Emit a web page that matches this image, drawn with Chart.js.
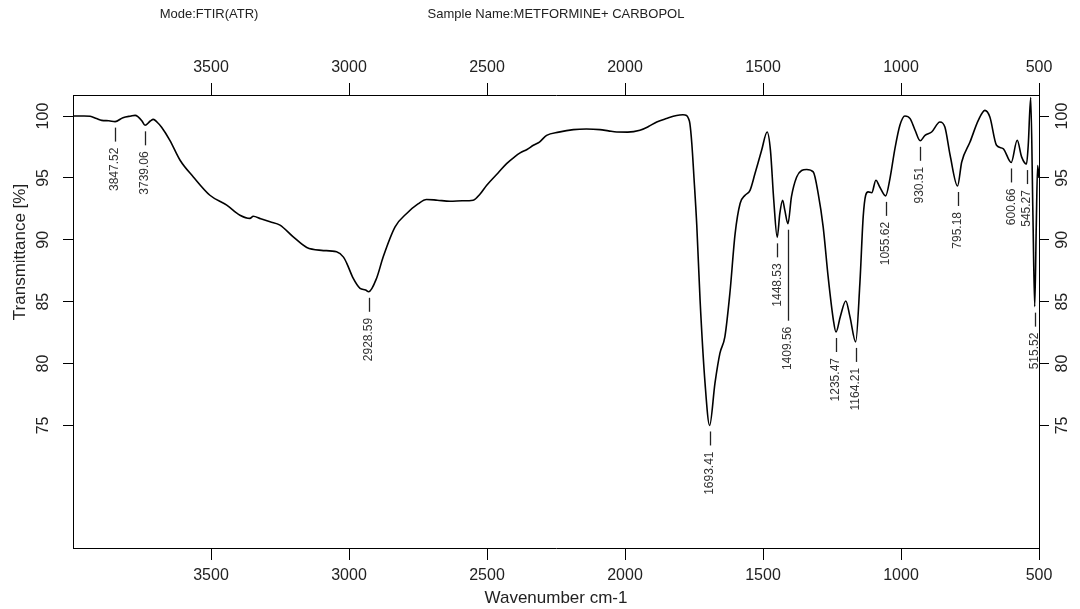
<!DOCTYPE html>
<html>
<head>
<meta charset="utf-8">
<title>FTIR - METFORMINE + CARBOPOL</title>
<script src="https://cdn.jsdelivr.net/npm/chart.js@4.4.1/dist/chart.umd.min.js"></script>
<style>
  html, body { margin: 0; padding: 0; background: #fff; }
  #wrap { width: 1080px; height: 609px; position: relative; }
</style>
</head>
<body>
<div id="wrap"><canvas id="chart" width="1080" height="609"></canvas></div>
<script>
// spectrum, wavenumber (cm-1) from high to low
var wavenumbers = [
  4000, 3960, 3938, 3915, 3896, 3870, 3847.52, 3819, 3790, 3775, 3765, 3750, 3739.06, 3720, 3709, 3695, 3679,
  3649, 3612, 3564, 3504, 3443, 3395, 3359, 3347, 3320, 3286, 3250, 3202, 3153, 3100, 3045, 3020, 3008,
  2985, 2960, 2940, 2928.59, 2900, 2876, 2833, 2791, 2750, 2719, 2680, 2634, 2590, 2550, 2525, 2501,
  2460, 2429, 2400, 2380, 2355, 2332, 2310, 2284, 2240, 2187, 2140, 2091, 2060, 2030, 1990, 1946, 1915,
  1885, 1850, 1813, 1790, 1777, 1770, 1765, 1758, 1750, 1740, 1728, 1710, 1693.41, 1674, 1656, 1638,
  1620, 1601, 1583, 1565, 1547, 1529, 1505, 1485, 1473, 1461, 1448.53, 1439, 1429, 1421, 1409.56, 1397,
  1378, 1360, 1342, 1318, 1300, 1282, 1264, 1245, 1235.47, 1220, 1200, 1185, 1164.21, 1149, 1137, 1128,
  1119, 1106, 1091, 1077, 1055.62, 1040, 1022, 1004, 986, 967, 949, 930.51, 913, 889, 859, 841, 822,
  795.18, 780, 750, 720, 696, 678, 654, 630, 600.66, 579, 563, 545.27, 539, 530, 522, 515.52, 510, 505, 500
];
var transmittance = [
  100.0, 100.0, 99.98, 99.8, 99.65, 99.62, 99.55, 99.87, 100.0, 100.05, 99.95, 99.6, 99.25, 99.6, 99.73, 99.5, 99.1,
  98.04, 96.43, 95.08, 93.6, 92.8, 91.99, 91.73, 91.9, 91.7, 91.45, 91.19, 90.24, 89.38, 89.15, 89.03, 88.6, 88.1,
  86.9, 86.08, 85.95, 85.8, 86.9, 88.63, 91.05, 92.13, 92.9, 93.26, 93.2, 93.12, 93.15, 93.2, 93.7, 94.41,
  95.4, 96.16, 96.7, 97.02, 97.3, 97.64, 97.9, 98.44, 98.7, 98.9, 98.95, 98.9, 98.8, 98.71, 98.7, 98.85, 99.15,
  99.52, 99.8, 100.05, 100.1, 100.05, 99.8, 99.4, 97.8, 95.0, 91.2, 85.14, 78.42, 75.0, 78.42, 80.84, 82.18,
  85.68, 90.5, 92.93, 93.6, 94.0, 95.35, 97.23, 98.71, 97.23, 93.2, 90.2, 92.13, 93.2, 92.4, 91.3, 93.47,
  95.08, 95.6, 95.68, 95.49, 93.74, 91.05, 87.02, 83.52, 82.55, 83.79, 85.06, 83.79, 81.75, 86.48, 91.85, 93.6,
  93.87, 93.8, 94.81, 94.27, 93.55, 94.95, 97.37, 99.25, 100.0, 99.79, 98.85, 98.0, 98.44, 98.71, 99.52, 99.11, 96.83,
  94.35, 96.29, 97.9, 99.65, 100.46, 99.92, 97.64, 97.37, 96.25, 98.04, 96.7, 96.12, 97.64, 101.5, 92, 84.6, 91, 96, 95
];

// picked peaks
var peaks = [3847.52, 3739.06, 2928.59, 1693.41, 1448.53, 1409.56, 1235.47, 1164.21, 1055.62, 930.51, 795.18, 600.66, 545.27, 515.52];

var xTicks = [3500, 3000, 2500, 2000, 1500, 1000, 500];
var yTicks = [75, 80, 85, 90, 95, 100];

var FONT = '"Liberation Sans", Arial, sans-serif';

var spectrum = wavenumbers.map(function(w, i) {
    return { x: w, y: transmittance[i] };
});

function fixTicks(list) {
    return function(scale) {
        scale.ticks = list.map(function(v) { return { value: v }; });
    };
}

//--------------------------------------------------------------------
// * header, rotated y labels, axis titles and the peak picks
//--------------------------------------------------------------------
var decorations = {
    id: 'decorations',
    afterDraw: function(chart) {
        var ctx = chart.ctx;
        var xs = chart.scales.x, ys = chart.scales.y;
        var area = chart.chartArea;

        ctx.save();
        ctx.fillStyle = '#222';
        ctx.textBaseline = 'middle';

        // header line
        ctx.font = '13px ' + FONT;
        ctx.textAlign = 'center';
        ctx.fillText('Mode:FTIR(ATR)', 209, 14);
        ctx.fillText('Sample Name:METFORMINE+ CARBOPOL', 556, 14);

        // x title
        ctx.font = '17px ' + FONT;
        ctx.fillText('Wavenumber cm-1', (area.left + area.right) / 2, 598);

        // y title
        ctx.save();
        ctx.translate(20, 252);
        ctx.rotate(-Math.PI / 2);
        ctx.fillText('Transmittance [%]', 0, 0);
        ctx.restore();

        // y tick labels on both sides
        ctx.font = '16px ' + FONT;
        yTicks.forEach(function(v) {
            var py = ys.getPixelForValue(v);
            [44, 1063].forEach(function(px) {
                ctx.save();
                ctx.translate(px, py);
                ctx.rotate(-Math.PI / 2);
                ctx.fillText(String(v), 0, 0);
                ctx.restore();
            });
        });

        // peak picks: short dash under the minimum, then the value
        ctx.font = '12px ' + FONT;
        ctx.strokeStyle = '#222';
        ctx.lineWidth = 1.3;
        var prev = null;
        peaks.forEach(function(w) {
            var t = transmittance[wavenumbers.indexOf(w)];
            var px = xs.getPixelForValue(w);
            var top = ys.getPixelForValue(t) + 6;
            var bottom = top + 14;
            if (prev && Math.abs(px - prev.x) < 12 && prev.end > top) {
                bottom = prev.end + 14;
            }
            var label = w.toFixed(2);
            var len = ctx.measureText(label).width;

            ctx.beginPath();
            ctx.moveTo(Math.round(px) + 0.5, top);
            ctx.lineTo(Math.round(px) + 0.5, bottom);
            ctx.stroke();

            ctx.save();
            ctx.fillStyle = '#333';
            ctx.translate(px, bottom + 6);
            ctx.rotate(-Math.PI / 2);
            ctx.textAlign = 'right';
            ctx.fillText(label, 0, 0);
            ctx.restore();

            prev = { x: px, end: bottom + 6 + len };
        });

        ctx.restore();
    }
};

function xAxis(pos, size) {
    return {
        type: 'linear',
        position: pos,
        reverse: true,
        min: 500,
        max: 4000,
        afterBuildTicks: fixTicks(xTicks),
        afterFit: function(scale) { scale.height = size; },
        grid: { drawOnChartArea: false, tickLength: 12, tickColor: '#000', color: '#000' },
        border: { display: true, color: '#000', width: 1 },
        ticks: {
            color: '#222',
            font: { family: FONT, size: 16 },
            padding: 6,
            maxRotation: 0,
            minRotation: 0,
            autoSkip: false,
            callback: function(v) { return String(v); }
        }
    };
}

function yAxis(pos, size) {
    return {
        type: 'linear',
        position: pos,
        min: 65.1,
        max: 101.7,
        afterBuildTicks: fixTicks(yTicks),
        afterFit: function(scale) { scale.width = size; },
        grid: { drawOnChartArea: false, tickLength: 10, tickColor: '#000', color: '#000' },
        border: { display: true, color: '#000', width: 1 },
        ticks: { display: false }
    };
}

var ctx = document.getElementById('chart').getContext('2d');
var chart = new Chart(ctx, {
    type: 'line',
    data: {
        datasets: [{
            label: 'METFORMINE+ CARBOPOL',
            data: spectrum,
            borderColor: '#000',
            borderWidth: 1.6,
            pointRadius: 0,
            fill: false,
            cubicInterpolationMode: 'monotone'
        }]
    },
    options: {
        responsive: false,
        devicePixelRatio: 1,
        animation: false,
        layout: { padding: 0 },
        plugins: {
            legend: { display: false },
            tooltip: { enabled: false }
        },
        scales: {
            x: xAxis('bottom', 61),
            x2: xAxis('top', 95),
            y: yAxis('left', 73),
            y2: yAxis('right', 41)
        }
    },
    plugins: [decorations]
});
</script>
</body>
</html>
